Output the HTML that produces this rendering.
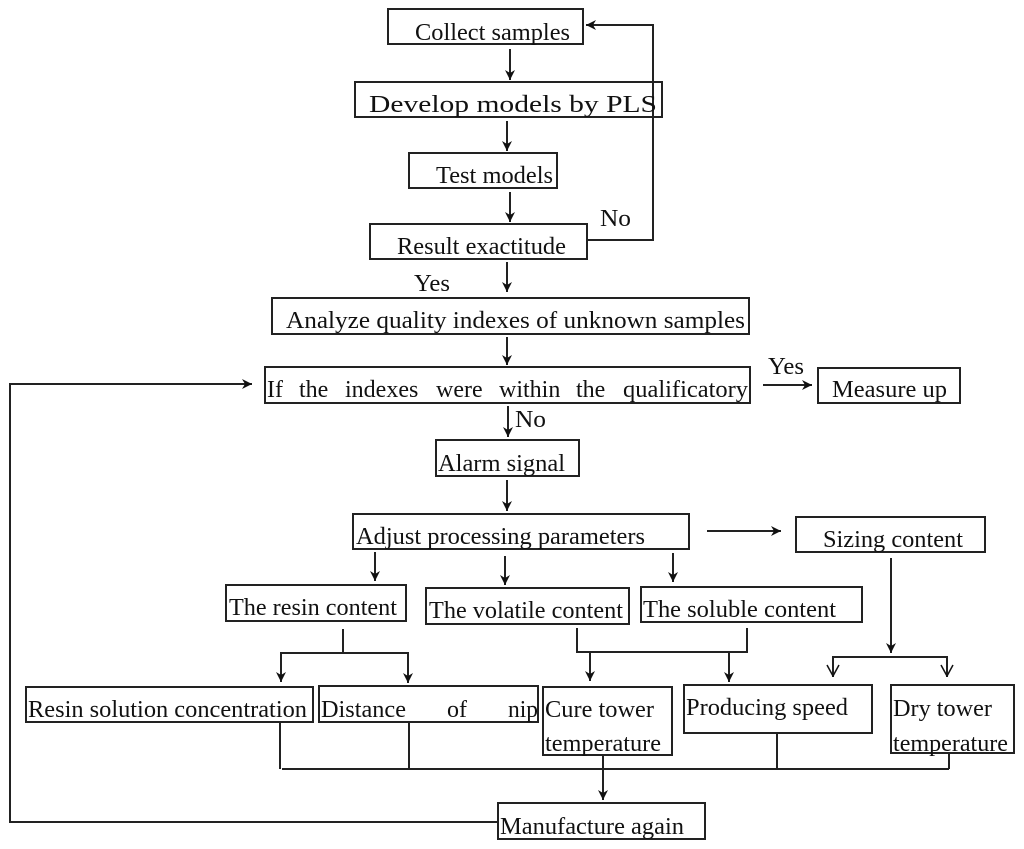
<!DOCTYPE html>
<html><head><meta charset="utf-8"><style>
html,body{margin:0;padding:0;background:#fff;}
svg{display:block;}
text{font-family:"Liberation Serif",serif;font-size:24px;fill:#111;}
</style></head><body>
<svg width="1024" height="849" viewBox="0 0 1024 849" xmlns="http://www.w3.org/2000/svg">
<defs>
<marker id="a" markerWidth="12" markerHeight="12" refX="10" refY="5" orient="auto" markerUnits="userSpaceOnUse">
<path d="M0,0 L10,5 L0,10 L3,5 z" fill="#111"/></marker>
<marker id="o" markerWidth="14" markerHeight="14" refX="7" refY="13" orient="0" markerUnits="userSpaceOnUse">
<path d="M1,2 L7,13 L13,2" fill="none" stroke="#111" stroke-width="1.5"/></marker>
</defs>
<g fill="none" stroke="#222" stroke-width="2">
<rect x="388" y="9" width="195" height="35"/>
<rect x="355" y="82" width="307" height="35"/>
<rect x="409" y="153" width="148" height="35"/>
<rect x="370" y="224" width="217" height="35"/>
<rect x="272" y="298" width="477" height="36"/>
<rect x="265" y="367" width="485" height="36"/>
<rect x="818" y="368" width="142" height="35"/>
<rect x="436" y="440" width="143" height="36"/>
<rect x="353" y="514" width="336" height="35"/>
<rect x="796" y="517" width="189" height="35"/>
<rect x="226" y="585" width="180" height="36"/>
<rect x="426" y="588" width="203" height="36"/>
<rect x="641" y="587" width="221" height="35"/>
<rect x="26" y="687" width="287" height="35"/>
<rect x="319" y="686" width="219" height="36"/>
<rect x="543" y="687" width="129" height="68"/>
<rect x="684" y="685" width="188" height="48"/>
<rect x="891" y="685" width="123" height="68"/>
<rect x="498" y="803" width="207" height="36"/>
</g>
<g fill="none" stroke="#222" stroke-width="2">
<line x1="510" y1="49" x2="510" y2="80" marker-end="url(#a)"/>
<line x1="507" y1="121" x2="507" y2="151" marker-end="url(#a)"/>
<line x1="510" y1="192" x2="510" y2="222" marker-end="url(#a)"/>
<polyline points="587,240 653,240 653,25 586,25" marker-end="url(#a)"/>
<line x1="507" y1="262" x2="507" y2="292" marker-end="url(#a)"/>
<line x1="507" y1="337" x2="507" y2="365" marker-end="url(#a)"/>
<polyline points="498,822 10,822 10,384 252,384" marker-end="url(#a)"/>
<line x1="763" y1="385" x2="812" y2="385" marker-end="url(#a)"/>
<line x1="508" y1="406" x2="508" y2="437" marker-end="url(#a)"/>
<line x1="507" y1="480" x2="507" y2="511" marker-end="url(#a)"/>
<line x1="707" y1="531" x2="781" y2="531" marker-end="url(#a)"/>
<line x1="375" y1="552" x2="375" y2="581" marker-end="url(#a)"/>
<line x1="505" y1="556" x2="505" y2="585" marker-end="url(#a)"/>
<line x1="673" y1="553" x2="673" y2="582" marker-end="url(#a)"/>
<line x1="343" y1="629" x2="343" y2="653"/>
<polyline points="281,682 281,653 408,653 408,682"/>
<line x1="281" y1="668" x2="281" y2="682" marker-end="url(#a)"/>
<line x1="408" y1="668" x2="408" y2="683" marker-end="url(#a)"/>
<polyline points="577,628 577,652 747,652 747,628"/>
<line x1="590" y1="652" x2="590" y2="681" marker-end="url(#a)"/>
<line x1="729" y1="652" x2="729" y2="682" marker-end="url(#a)"/>
<line x1="891" y1="558" x2="891" y2="653" marker-end="url(#a)"/>
<polyline points="833,677 833,657 947,657 947,677"/>
<line x1="833" y1="663" x2="833" y2="676" marker-end="url(#o)"/>
<line x1="947" y1="663" x2="947" y2="676" marker-end="url(#o)"/>
<line x1="280" y1="722" x2="280" y2="769"/>
<line x1="409" y1="722" x2="409" y2="769"/>
<line x1="603" y1="755" x2="603" y2="769"/>
<line x1="777" y1="733" x2="777" y2="769"/>
<line x1="949" y1="753" x2="949" y2="769"/>
<line x1="282" y1="769" x2="949" y2="769"/>
<line x1="603" y1="769" x2="603" y2="800" marker-end="url(#a)"/>
</g>
<g>
<text x="415" y="40" textLength="155" lengthAdjust="spacingAndGlyphs">Collect samples</text>
<text x="369" y="112" textLength="288" lengthAdjust="spacingAndGlyphs">Develop models by PLS</text>
<text x="436" y="183" textLength="117" lengthAdjust="spacingAndGlyphs">Test models</text>
<text x="397" y="254" textLength="169" lengthAdjust="spacingAndGlyphs">Result exactitude</text>
<text x="600" y="226" textLength="31" lengthAdjust="spacingAndGlyphs">No</text>
<text x="414" y="291" textLength="36" lengthAdjust="spacingAndGlyphs">Yes</text>
<text x="286" y="328" textLength="459" lengthAdjust="spacingAndGlyphs">Analyze quality indexes of unknown samples</text>
<text x="267" y="397">If</text>
<text x="299" y="397">the</text>
<text x="345" y="397">indexes</text>
<text x="436" y="397">were</text>
<text x="499" y="397">within</text>
<text x="576" y="397">the</text>
<text x="623" y="397" textLength="125" lengthAdjust="spacingAndGlyphs">qualificatory</text>
<text x="768" y="374" textLength="36" lengthAdjust="spacingAndGlyphs">Yes</text>
<text x="832" y="397" textLength="115" lengthAdjust="spacingAndGlyphs">Measure up</text>
<text x="515" y="427" textLength="31" lengthAdjust="spacingAndGlyphs">No</text>
<text x="438" y="471" textLength="127" lengthAdjust="spacingAndGlyphs">Alarm signal</text>
<text x="356" y="544" textLength="289" lengthAdjust="spacingAndGlyphs">Adjust processing parameters</text>
<text x="823" y="547" textLength="140" lengthAdjust="spacingAndGlyphs">Sizing content</text>
<text x="229" y="615" textLength="168" lengthAdjust="spacingAndGlyphs">The resin content</text>
<text x="429" y="618" textLength="194" lengthAdjust="spacingAndGlyphs">The volatile content</text>
<text x="643" y="617" textLength="193" lengthAdjust="spacingAndGlyphs">The soluble content</text>
<text x="28" y="717" textLength="279" lengthAdjust="spacingAndGlyphs">Resin solution concentration</text>
<text x="321" y="717" textLength="85" lengthAdjust="spacingAndGlyphs">Distance</text>
<text x="447" y="717">of</text>
<text x="508" y="717" textLength="30" lengthAdjust="spacingAndGlyphs">nip</text>
<text x="545" y="717" textLength="109" lengthAdjust="spacingAndGlyphs">Cure tower</text>
<text x="545" y="751" textLength="116" lengthAdjust="spacingAndGlyphs">temperature</text>
<text x="686" y="715" textLength="162" lengthAdjust="spacingAndGlyphs">Producing speed</text>
<text x="893" y="716" textLength="99" lengthAdjust="spacingAndGlyphs">Dry tower</text>
<text x="893" y="751" textLength="115" lengthAdjust="spacingAndGlyphs">temperature</text>
<text x="500" y="834" textLength="184" lengthAdjust="spacingAndGlyphs">Manufacture again</text>
</g>
</svg>
</body></html>
